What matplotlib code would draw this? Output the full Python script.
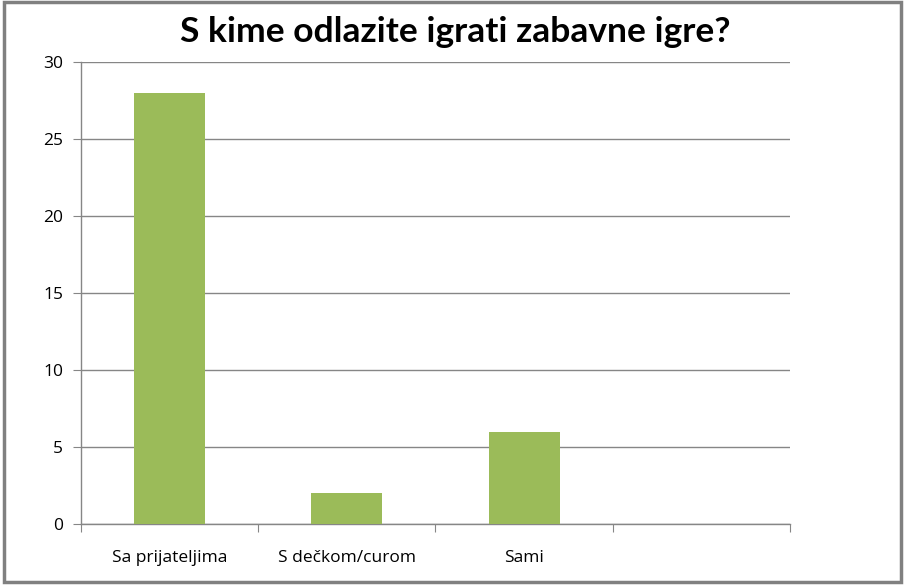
# Import Libraries
import matplotlib
matplotlib.use("Agg")
import matplotlib.pyplot as plt
from matplotlib.patches import Rectangle

# Data
categories = ["Sa prijateljima", "S dečkom/curom", "Sami", ""]
values = [28, 2, 6, 0]
yticks = [0, 5, 10, 15, 20, 25, 30]

plt.rcParams['font.family'] = ['Open Sans', 'DejaVu Sans']

fig = plt.figure(figsize=(9.05, 5.86), dpi=100)
ax = fig.add_axes([0.0895, 0.1058, 0.7834, 0.7884])

# Bars
x = list(range(len(categories)))
ax.bar(x, values, width=0.4, color="#9BBB59", zorder=3)

# Axes styling
ax.set_xlim(-0.5, len(categories) - 0.5)
ax.set_ylim(0, 30)
ax.set_yticks(yticks)
ax.set_yticklabels([str(v) for v in yticks], fontsize=12.5)
ax.grid(axis="y", color="#868686", linewidth=1, zorder=0)
for side in ["top", "right"]:
    ax.spines[side].set_visible(False)
for side in ["left", "bottom"]:
    ax.spines[side].set_color("#868686")
    ax.spines[side].set_linewidth(1)
ax.tick_params(axis="y", length=6, color="#868686", pad=7)

# Category labels between boundary ticks
ax.set_xticks([i - 0.5 for i in range(len(categories) + 1)])
ax.set_xticklabels([])
ax.tick_params(axis="x", length=6, color="#868686")
for i, lab in enumerate(categories):
    ax.text(i, -2.2, lab, ha="center", va="center", fontsize=12.5,
            transform=ax.transData, clip_on=False)

# Title
fig.text(0.503, 0.945, "S kime odlazite igrati zabavne igre?",
         ha="center", va="center", fontsize=25.5, fontweight="bold",
         family=["Lato", "DejaVu Sans"])

# Outer border with shadow
fig.patches.append(Rectangle((0.004, 0.007), 0.992, 0.989, transform=fig.transFigure,
                             fill=False, edgecolor="#808080", linewidth=2.5))

fig.savefig("out.png", dpi=100)
